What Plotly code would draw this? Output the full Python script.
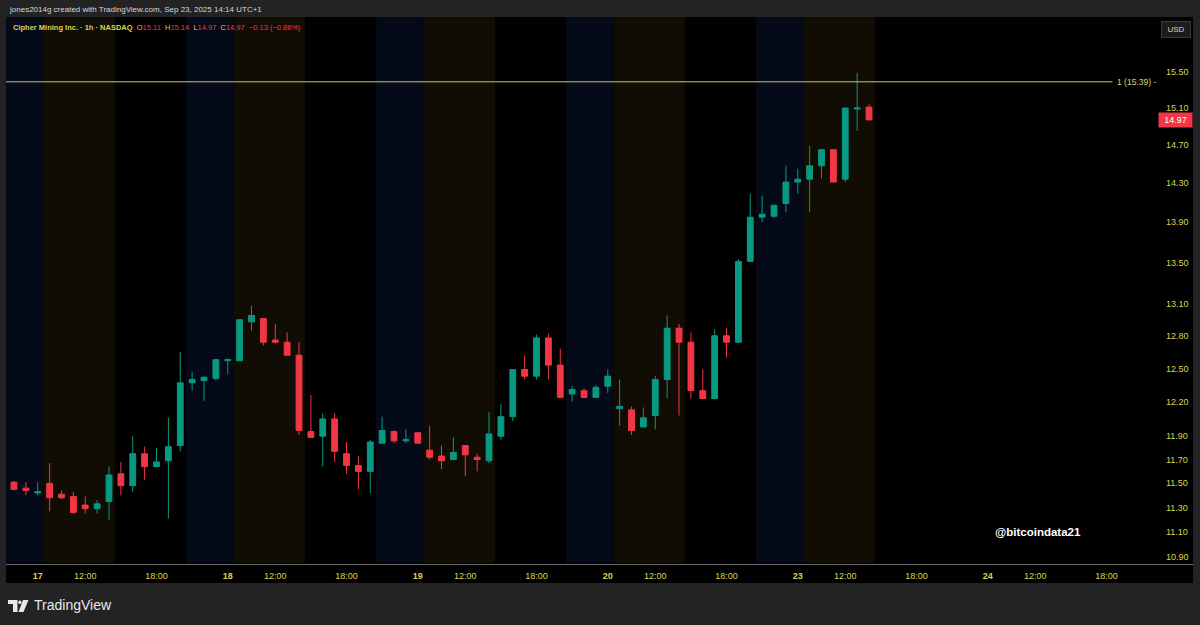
import math
import plotly.graph_objects as go

# ---------------- data ----------------
bars = list(range(73))
opens = [11.51, 11.46, 11.42, 11.50, 11.41, 11.39, 11.32, 11.29, 11.35, 11.58,
         11.48, 11.75, 11.64, 11.69, 11.82, 12.37, 12.39, 12.41, 12.57, 12.57,
         12.93, 12.96, 12.76, 12.74, 12.62, 11.94, 11.90, 12.05, 11.75, 11.65,
         11.60, 11.84, 11.94, 11.86, 11.93, 11.78, 11.73, 11.70, 11.82, 11.72,
         11.69, 11.90, 12.07, 12.49, 12.43, 12.78, 12.53, 12.27, 12.30, 12.24,
         12.34, 12.14, 12.13, 11.98, 12.08, 12.40, 12.87, 12.74, 12.30, 12.23,
         12.80, 12.74, 13.51, 13.95, 13.96, 14.09, 14.31, 14.34, 14.48, 14.65,
         14.34, 15.09, 15.11]
highs = [11.52, 11.51, 11.51, 11.67, 11.44, 11.43, 11.39, 11.36, 11.64, 11.68,
         11.90, 11.81, 11.80, 12.06, 12.65, 12.47, 12.43, 12.58, 12.59, 12.95,
         13.08, 12.96, 12.91, 12.83, 12.74, 12.26, 12.10, 12.10, 11.85, 11.73,
         11.87, 12.07, 11.95, 11.96, 11.93, 11.99, 11.82, 11.89, 11.82, 11.75,
         12.11, 12.18, 12.49, 12.62, 12.81, 12.82, 12.68, 12.34, 12.32, 12.35,
         12.49, 12.40, 12.16, 12.15, 12.43, 12.99, 12.91, 12.83, 12.49, 12.86,
         12.87, 13.53, 14.19, 14.17, 14.08, 14.48, 14.45, 14.69, 14.65, 14.65,
         15.10, 15.49, 15.14]
lows = [11.44, 11.40, 11.40, 11.27, 11.37, 11.25, 11.25, 11.25, 11.20, 11.40,
        11.43, 11.53, 11.64, 11.21, 11.77, 12.30, 12.21, 12.39, 12.45, 12.57,
        12.85, 12.71, 12.73, 12.62, 11.91, 11.89, 11.64, 11.68, 11.58, 11.45,
        11.42, 11.84, 11.84, 11.84, 11.84, 11.70, 11.62, 11.70, 11.56, 11.60,
        11.67, 11.87, 12.03, 12.40, 12.40, 12.40, 12.23, 12.20, 12.24, 12.24,
        12.28, 11.99, 11.91, 11.98, 11.96, 12.23, 12.08, 12.23, 12.23, 12.22,
        12.60, 12.73, 13.51, 13.90, 13.94, 14.00, 14.19, 14.00, 14.35, 14.31,
        14.31, 14.85, 14.97]
closes = [11.45, 11.44, 11.43, 11.38, 11.38, 11.26, 11.29, 11.33, 11.57, 11.48,
          11.75, 11.64, 11.68, 11.81, 12.37, 12.40, 12.42, 12.58, 12.58, 12.95,
          12.99, 12.74, 12.74, 12.62, 11.95, 11.89, 12.05, 11.77, 11.65, 11.60,
          11.85, 11.95, 11.86, 11.87, 11.84, 11.72, 11.69, 11.76, 11.74, 11.70,
          11.92, 12.07, 12.49, 12.43, 12.78, 12.53, 12.24, 12.31, 12.24, 12.33,
          12.43, 12.16, 11.95, 12.06, 12.40, 12.87, 12.74, 12.30, 12.23, 12.80,
          12.74, 13.51, 13.95, 13.98, 14.07, 14.31, 14.34, 14.48, 14.65, 14.31,
          15.10, 15.10, 14.97]

level_price = 15.39
level_label = "1 (15.39) -"

price_ticks = [10.90, 11.10, 11.30, 11.50, 11.70, 11.90, 12.20, 12.50, 12.80,
               13.10, 13.50, 13.90, 14.30, 14.70, 15.10, 15.50]
time_tick_bars = [2, 6, 12, 18, 22, 28, 34, 38, 44, 50, 54, 60, 66, 70, 76, 82, 86, 92]
time_tick_labels = ["17", "12:00", "18:00", "18", "12:00", "18:00", "19", "12:00", "18:00",
                    "20", "12:00", "18:00", "23", "12:00", "18:00", "24", "12:00", "18:00"]
day_labels = {"17", "18", "19", "20", "23", "24"}
session_day_starts = [0, 16, 32, 48, 64]

# ---------------- layout geometry ----------------
W, H = 1200, 625
L, R, T, B = 6, 43, 17, 62
PW, PH = W - L - R, H - T - B


def pxx(x):
    return (x - L) / PW


def pxy(y):
    return (H - B - y) / PH


UP = "#089981"
DOWN = "#f23645"
YEL = "#dcd54c"
FONT = "Liberation Sans"

fig = go.Figure()

fig.add_trace(go.Candlestick(
    x=bars, open=opens, high=highs, low=lows, close=closes,
    increasing=dict(line=dict(color=UP, width=1), fillcolor=UP),
    decreasing=dict(line=dict(color=DOWN, width=1), fillcolor=DOWN),
    whiskerwidth=0, hoverinfo="skip", showlegend=False,
))

x_left = -0.674
x_right = 96.25
fig.add_trace(go.Scatter(
    x=[x_left, 92.5], y=[level_price, level_price], mode="lines",
    line=dict(color="#c9c27a", width=1), hoverinfo="skip", showlegend=False,
))

shapes = []
# black chart panel
shapes.append(dict(type="rect", xref="paper", yref="paper", x0=pxx(6), x1=pxx(1193),
                   y0=pxy(583), y1=pxy(17), fillcolor="#000000", line=dict(width=0), layer="below"))
# session bands
for s in session_day_starts:
    shapes.append(dict(type="rect", xref="x", yref="paper", x0=s - 1.5, x1=s + 2.5, y0=0, y1=1,
                       fillcolor="#050a18", line=dict(width=0), layer="below"))
    shapes.append(dict(type="rect", xref="x", yref="paper", x0=s + 2.5, x1=s + 8.5, y0=0, y1=1,
                       fillcolor="#120d04", line=dict(width=0), layer="below"))
# time axis separator
shapes.append(dict(type="line", xref="paper", yref="paper", x0=pxx(6), x1=pxx(1193),
                   y0=pxy(564.5), y1=pxy(564.5), line=dict(color="#6a6a6a", width=1)))
# TradingView logo glyph
shapes.append(dict(type="path", xref="paper", yref="paper",
                   path=("M {a},{b} L {c},{b} L {c},{d} L {e},{d} L {e},{f} L {a},{f} Z").format(
                       a=pxx(8), b=pxy(600), c=pxx(17.5), d=pxy(612), e=pxx(13), f=pxy(604)),
                   fillcolor="#e8e8e8", line=dict(width=0)))
shapes.append(dict(type="circle", xref="paper", yref="paper", x0=pxx(18.2), x1=pxx(21.6),
                   y0=pxy(604), y1=pxy(600.6), fillcolor="#e8e8e8", line=dict(width=0)))
shapes.append(dict(type="path", xref="paper", yref="paper",
                   path="M {a},{b} L {c},{b} L {d},{e} L {f},{e} Z".format(
                       a=pxx(23), b=pxy(600), c=pxx(28.5), d=pxx(23.5), e=pxy(612), f=pxx(18.5)),
                   fillcolor="#e8e8e8", line=dict(width=0)))

annotations = []
annotations.append(dict(xref="paper", yref="paper", x=pxx(7), y=pxy(9), xanchor="left", yanchor="middle",
                        text="jones2014g created with TradingView.com, Sep 23, 2025 14:14 UTC+1",
                        font=dict(family=FONT, size=8, color="#d8d8d8"), showarrow=False))
legend_txt = (
    f"<span style='color:{YEL}'><b>Cipher Mining Inc. · 1h · NASDAQ</b></span>"
    f"  <span style='color:{YEL}'>O</span><span style='color:{DOWN}'>{opens[-1]:.2f}</span>"
    f"  <span style='color:{YEL}'>H</span><span style='color:{DOWN}'>{highs[-1]:.2f}</span>"
    f"  <span style='color:{YEL}'>L</span><span style='color:{DOWN}'>{lows[-1]:.2f}</span>"
    f"  <span style='color:{YEL}'>C</span><span style='color:{DOWN}'>{closes[-1]:.2f}</span>"
    f"  <span style='color:{DOWN}'>−0.13 (−0.86%)</span>"
)
annotations.append(dict(xref="paper", yref="paper", x=pxx(11), y=pxy(27), xanchor="left", yanchor="middle",
                        text=legend_txt, font=dict(family=FONT, size=7.5, color=YEL), showarrow=False))
annotations.append(dict(xref="paper", yref="paper", x=pxx(1161), y=pxy(29), xanchor="left", yanchor="middle",
                        text="USD", font=dict(family=FONT, size=8, color="#d1d4dc"),
                        bgcolor="#1c1c1c", bordercolor="#3a3a3a", borderwidth=1, width=26, height=13,
                        showarrow=False))
annotations.append(dict(xref="paper", yref="y", x=pxx(1115), y=math.log10(level_price),
                        xanchor="left", yanchor="middle", text=level_label,
                        font=dict(family=FONT, size=8.5, color="#dcd570"), showarrow=False))
annotations.append(dict(xref="paper", yref="y", x=pxx(1158), y=math.log10(closes[-1]),
                        xanchor="left", yanchor="middle", text=f"{closes[-1]:.2f}",
                        font=dict(family=FONT, size=9, color="#ffffff"), bgcolor=DOWN,
                        width=31, height=12, borderpad=1, showarrow=False))
annotations.append(dict(xref="paper", yref="paper", x=pxx(1038), y=pxy(532), xanchor="center", yanchor="middle",
                        text="<b>@bitcoindata21</b>", font=dict(family=FONT, size=11.5, color="#ffffff"),
                        showarrow=False))
annotations.append(dict(xref="paper", yref="paper", x=pxx(32), y=pxy(605), xanchor="left", yanchor="middle",
                        text="TradingView", font=dict(family=FONT, size=14, color="#e8e8e8"),
                        showarrow=False))

fig.update_layout(
    width=W, height=H,
    margin=dict(l=L, r=R, t=T, b=B, pad=0),
    paper_bgcolor="#232323",
    plot_bgcolor="#000000",
    shapes=shapes,
    annotations=annotations,
    showlegend=False,
    xaxis=dict(
        range=[x_left, x_right], showgrid=False, zeroline=False, showline=False,
        rangeslider=dict(visible=False), fixedrange=True,
        tickmode="array", tickvals=time_tick_bars,
        ticktext=[f"<b>{t}</b>" if t in day_labels else t for t in time_tick_labels],
        ticks="", ticklabelstandoff=6,
        tickfont=dict(family=FONT, size=9, color=YEL),
    ),
    yaxis=dict(
        type="log", side="right",
        range=[math.log10(10.854), math.log10(16.131)],
        showgrid=False, zeroline=False, showline=False, fixedrange=True,
        tickmode="array", tickvals=price_ticks,
        ticktext=[f"{v:.2f}" for v in price_ticks],
        ticks="", ticklabelstandoff=8,
        tickfont=dict(family=FONT, size=9, color=YEL),
    ),
)

fig.write_html("out.html", config={"displayModeBar": False},
               post_script="document.body.style.margin='0';document.body.style.overflow='hidden';")
